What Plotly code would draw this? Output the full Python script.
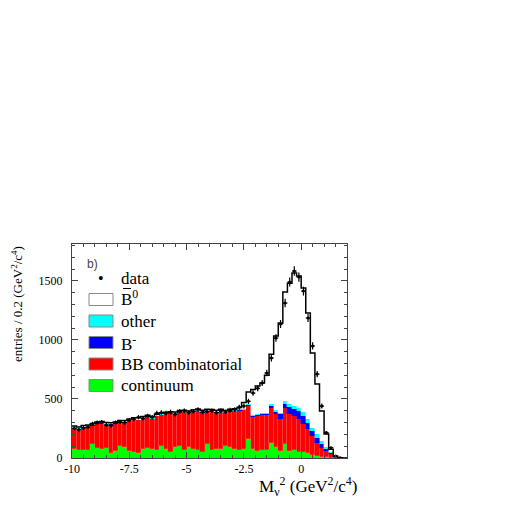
import numpy as np
import plotly.graph_objects as go

# bin centres of the missing-mass histogram (0.2 GeV^2/c^4 bins, -10 .. 2)
bin_lo, bin_w, n_bins = -10.0, 0.2, 60
centers = bin_lo + bin_w * (np.arange(n_bins) + 0.5)

continuum = [75, 70, 68, 65, 118, 85, 80, 85, 45, 60, 100, 96, 60, 55, 40, 80, 85, 80, 70, 100,
             76, 51, 90, 102, 65, 90, 76, 65, 55, 119, 65, 76, 76, 102, 90, 76, 70, 76, 161, 76,
             59, 70, 65, 130, 90, 59, 118, 59, 68, 50, 55, 40, 25, 15, 10, 5, 3, 1, 0, 0]
bb_comb = [180, 175, 190, 197, 157, 205, 212, 193, 237, 230, 200, 202, 250, 267, 278, 255, 260, 250, 282, 265,
           294, 324, 282, 283, 323, 288, 314, 333, 330, 276, 327, 309, 319, 280, 302, 319, 328, 328, 279, 271,
           297, 294, 299, 296, 285, 271, 308, 316, 288, 277, 230, 203, 161, 115, 77, 54, 28, 7, 2, 0]
b_minus = [3] * 35 + [5] * 8 + [17, 17, 40, 34, 57, 56, 71, 71, 56, 43, 42, 29, 14, 14, 4, 1, 0]
other = [4] * 35 + [10] * 8 + [17, 12, 14, 23, 23, 28, 28, 36, 28, 28, 34, 28, 20, 5, 2, 0, 0]
b0bar = [10, 10, 10, 11, 10, 8, 11, 15, 9, 8, 11, 13, 13, 11, 15, 10, 10, 15, 11, 10,
         11, 10, 11, 10, 10, 13, 11, 10, 13, 10, 11, 13, 10, 13, 13, 8, 15, 51, 105, 218,
         239, 256, 321, 420, 629, 759, 923, 1025, 1127, 1116, 1048, 901, 632, 421, 254, 110, 25, 1, 0, 0]
data = [250, 240, 255, 262, 290, 300, 305, 280, 275, 300, 305, 300, 320, 330, 345, 335, 355, 345, 380, 385,
        380, 390, 370, 395, 400, 385, 395, 410, 390, 395, 400, 385, 400, 390, 405, 410, 430, 440, 480, 550,
        590, 635, 720, 847, 1016, 1135, 1313, 1491, 1584, 1533, 1414, 1186, 949, 711, 440, 215, 87, 17, 2, 0]

legend_items = [("B<sup>0</sup>", "white"), ("other", "cyan"), ("B<sup>-</sup>", "blue"),
                ("BB combinatorial", "red"), ("continuum", "#00ff00")]

FONT = "Liberation Serif, Times New Roman, serif"

fig = go.Figure()
for name, vals, col, edge in [("continuum", continuum, "#00ff00", "#00ff00"),
                              ("BB combinatorial", bb_comb, "red", "#ff5a5a"),
                              ("B-", b_minus, "blue", "blue"), ("other", other, "cyan", "cyan"),
                              ("B0", b0bar, "white", "white")]:
    fig.add_trace(go.Bar(x=centers, y=vals, width=bin_w, name=name, marker_color=col,
                         marker_line=dict(width=0.4, color=edge), showlegend=False))

total = np.sum([continuum, bb_comb, b_minus, other, b0bar], axis=0)
edges = bin_lo + bin_w * np.arange(n_bins + 1)
fig.add_trace(go.Scatter(x=edges, y=np.append(total, total[-1]), mode="lines", line_shape="hv",
                         line=dict(color="black", width=1.5), showlegend=False))

d = np.array(data, dtype=float)
keep = d > 0
fig.add_trace(go.Scatter(x=centers[keep], y=d[keep], mode="markers", marker=dict(color="black", size=3),
                         error_x=dict(type="constant", value=bin_w / 2, width=0, thickness=1.2, color="black"),
                         error_y=dict(type="data", array=np.sqrt(d[keep]), width=0, thickness=1.2,
                                      color="black"),
                         showlegend=False))

# hand-made legend in the upper left corner (pixel positions of the reference frame)
L, T, W, H = 71, 243, 275, 214
px = lambda x: (x - L) / W
py = lambda y: (T + H - y) / H
row_y = [277 + 21.5 * i for i in range(6)]


def note(x, y, text, size=17, xanchor="left", **kw):
    fig.add_annotation(x=px(x), y=py(y), xref="paper", yref="paper", text=text, xanchor=xanchor,
                       yanchor=kw.pop("yanchor", "middle"), showarrow=False,
                       font=dict(size=size, family=kw.pop("family", FONT), color=kw.pop("color", "black")), **kw)


note(100, row_y[0], "\u2022", size=16, xanchor="center")
note(118, row_y[0], "data")
for i, (txt, col) in enumerate(legend_items):
    yc = row_y[i + 1]
    fig.add_shape(type="rect", xref="paper", yref="paper", x0=px(88), x1=px(112),
                  y0=py(yc + 6), y1=py(yc - 6), fillcolor=col, line=dict(color="#888", width=1))
    note(118, yc - (2 if i == 0 else 0), txt)
# bar over the B of the anti-B0 entry
fig.add_shape(type="line", xref="paper", yref="paper", x0=px(122), x1=px(130),
              y0=py(row_y[1] - 11), y1=py(row_y[1] - 11), line=dict(color="black", width=1))

note(84, 263, "b)", size=12, family="Liberation Sans, sans-serif", color="#444")
note(358, 485, "M<sub>\u03bd</sub><sup>2</sup> (GeV<sup>2</sup>/c<sup>4</sup>)", xanchor="right")
fig.add_annotation(x=px(16), y=1.0, xref="paper", yref="paper", xanchor="center", yanchor="top",
                   textangle=-90, text="entries / 0.2 (GeV<sup>2</sup>/c<sup>4</sup>)",
                   showarrow=False, font=dict(size=13, family=FONT, color="black"))

axis_common = dict(showgrid=False, zeroline=False, showline=True, linecolor="#444", linewidth=1,
                   mirror="ticks", ticks="inside", ticklen=6, tickcolor="#444",
                   tickfont=dict(size=12, family=FONT, color="black"))
fig.update_xaxes(range=[-10, 2], tickvals=[-10, -7.5, -5, -2.5, 0], ticktext=["-10", "-7.5", "-5", "-2.5", "0"],
                 minor=dict(dtick=0.5, tick0=0, ticks="inside", ticklen=3, tickcolor="#444"), **axis_common)
fig.update_yaxes(range=[0, 1813], tickvals=[0, 500, 1000, 1500], ticklabelstandoff=6,
                 minor=dict(dtick=100, ticks="inside", ticklen=3, tickcolor="#444"), **axis_common)
fig.update_layout(width=512, height=512, barmode="stack", bargap=0, plot_bgcolor="white",
                  paper_bgcolor="white", margin=dict(l=64, r=173, t=236, b=62, autoexpand=False))
fig.write_html("out.html")
